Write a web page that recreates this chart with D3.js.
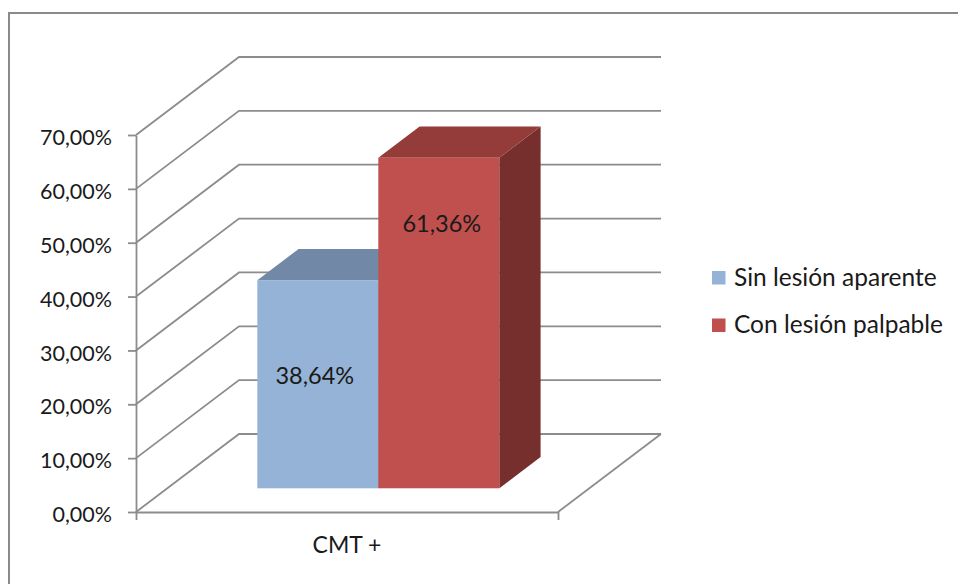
<!DOCTYPE html>
<html>
<head>
<meta charset="utf-8">
<script src="https://cdn.jsdelivr.net/npm/d3@7"></script>
<style>
  html, body { margin: 0; padding: 0; background: #fff; }
  svg { display: block; font-family: Lato, "Open Sans", sans-serif; }
</style>
</head>
<body>
<svg id="chart" width="958" height="584"></svg>
<script>
// ---- data ----
const categories = ["CMT +"];
const seriesNames = ["Sin lesión aparente", "Con lesión palpable"];
const seriesValues = [0.3864, 0.6136];
const tickValues = [0, 0.1, 0.2, 0.3, 0.4, 0.5, 0.6, 0.7];

// ---- styling ----
const frontColors = ["#95B3D7", "#C0504D"];
const topColors   = ["#7189A7", "#943C3A"];
const sideColors  = ["#6A7F99", "#772F2D"];
const gridColor = "#8c8c8c";
const textColor = "#1a1a1a";

// ---- layout: front plane + oblique depth vector ----
const X0 = 136, X1 = 558;
const depthX = 103, depthY = -78;
const barDepthFront = 0.304, barDepthBack = 0.705;
// label anchors, as a fraction of each bar's height
const labelAnchor = [0.54, 0.80];

const locale = d3.formatLocale({ decimal: ",", thousands: ".", grouping: [3], currency: ["", "€"] });
const pct = locale.format(".2%");

const svg = d3.select("#chart");

// outer frame
svg.append("rect")
  .attr("x", 9).attr("y", 13).attr("width", 980).attr("height", 600)
  .attr("fill", "#fff").attr("stroke", "#8a8a8a").attr("stroke-width", 2);

const y = d3.scaleLinear().domain([0, 0.7]).range([512, 135]);
const x = d3.scaleBand().domain(categories).range([X0, X1]).paddingInner(0).paddingOuter(0.372);
const xs = d3.scaleBand().domain(seriesNames).range([0, x.bandwidth()]);

const proj = (px, v, d) => [px + depthX * d, y(v) + depthY * d];

// walls and floor gridlines
const grid = svg.append("g").attr("fill", "none").attr("stroke", gridColor).attr("stroke-width", 1.8);
tickValues.forEach(v => {
  const pts = [proj(X0, v, 0), proj(X0, v, 1), proj(X1, v, 1)];
  grid.append("path").attr("d", d3.line()(pts));
});
// floor right edge
grid.append("path").attr("d", d3.line()([proj(X1, 0, 0), proj(X1, 0, 1)]));

// y axis
const yAxis = svg.append("g")
  .attr("transform", `translate(${X0},0)`)
  .call(d3.axisLeft(y).tickValues(tickValues).tickFormat(pct).tickSizeInner(8).tickSizeOuter(0).tickPadding(16));
yAxis.selectAll("path, line").attr("stroke", gridColor).attr("stroke-width", 1.8);
yAxis.selectAll("text")
  .attr("fill", textColor).attr("font-size", 21.5).attr("font-family", "Lato, sans-serif")
  .attr("dy", "0.45em");

// x axis
const xAxis = svg.append("g")
  .attr("transform", `translate(0,${y(0)})`)
  .call(d3.axisBottom(x).tickSizeInner(0).tickSizeOuter(8));
xAxis.selectAll("path, line").attr("stroke", gridColor).attr("stroke-width", 1.8);
xAxis.selectAll("text")
  .attr("fill", textColor).attr("font-size", 23).attr("font-family", "Lato, sans-serif")
  .attr("y", 41).attr("dy", 0);

// 3D bars
const bars = svg.append("g");
categories.forEach(cat => {
  seriesNames.forEach((s, i) => {
    const v = seriesValues[i];
    const xl = x(cat) + xs(s), xr = xl + xs.bandwidth();
    const a = barDepthFront, b = barDepthBack;
    const g = bars.append("g");
    // right side
    g.append("polygon")
      .attr("points", [proj(xr, 0, a), proj(xr, 0, b), proj(xr, v, b), proj(xr, v, a)].join(" "))
      .attr("fill", sideColors[i]);
    // top
    g.append("polygon")
      .attr("points", [proj(xl, v, a), proj(xr, v, a), proj(xr, v, b), proj(xl, v, b)].join(" "))
      .attr("fill", topColors[i]);
    // front
    const [fx, fy] = proj(xl, v, a);
    const [, fb] = proj(xl, 0, a);
    g.append("rect")
      .attr("x", fx).attr("y", fy).attr("width", xs.bandwidth()).attr("height", fb - fy)
      .attr("fill", frontColors[i]);
  });
});

// value labels
categories.forEach(cat => {
  seriesNames.forEach((s, i) => {
    const v = seriesValues[i];
    const cx = x(cat) + xs(s) + xs.bandwidth() / 2;
    const [lx, ly] = proj(cx, v * labelAnchor[i], barDepthFront);
    svg.append("text")
      .attr("x", lx + (i === 0 ? -3 : 3)).attr("y", ly)
      .attr("dy", "0.36em")
      .attr("text-anchor", "middle")
      .attr("font-size", 23.5).attr("fill", textColor)
      .text(pct(v));
  });
});

// legend
const legend = svg.append("g").attr("transform", "translate(712,271)");
seriesNames.forEach((s, i) => {
  const row = legend.append("g").attr("transform", `translate(0,${i * 47.5})`);
  row.append("rect").attr("width", 13.5).attr("height", 13.5).attr("fill", frontColors[i]);
  row.append("text")
    .attr("x", 22).attr("y", 14.5)
    .attr("font-size", 24.5).attr("fill", textColor)
    .text(s);
});
</script>
</body>
</html>
